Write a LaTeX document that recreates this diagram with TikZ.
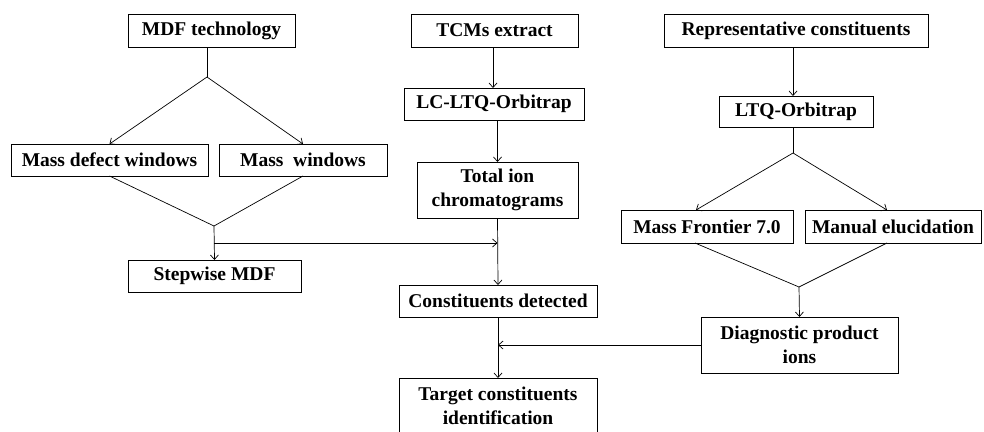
\documentclass[tikz,border=0pt]{standalone}
\usepackage{fontspec}
\setmainfont{Liberation Serif}
\usepackage{tikz}
\usetikzlibrary{arrows.meta}

\begin{document}
\begin{tikzpicture}[x=1pt, y=-1pt, >={Straight Barb[length=4.5pt,width=8pt]},
  every node/.style={draw, line width=0.9pt, inner sep=0pt, outer sep=0pt, align=center,
    font=\fontsize{19.5}{24}\selectfont\bfseries},
  link/.style={line width=0.7pt},
  flow/.style={line width=0.7pt, ->}]
\useasboundingbox (0,0) rectangle (984,431);

\node[minimum width=167pt, minimum height=33pt] (mdf) at (211.5,30.5) {MDF technology};
\node[minimum width=197pt, minimum height=32pt] (defectwin) at (109.5,160) {Mass defect windows};
\node[minimum width=168pt, minimum height=32pt] (masswin) at (303,160) {Mass~ windows};
\node[minimum width=173pt, minimum height=32pt] (stepwise) at (214.5,276) {Stepwise MDF};

\node[minimum width=167pt, minimum height=33pt] (tcms) at (494.5,30.5) {TCMs extract};
\node[minimum width=180pt, minimum height=32pt] (lcltq) at (494,104) {LC-LTQ-Orbitrap};
\node[minimum width=161pt, minimum height=56pt] (tic) at (497.5,190) {Total ion\\chromatograms};
\node[minimum width=198pt, minimum height=32pt] (detected) at (498,301) {Constituents detected};
\node[minimum width=198pt, minimum height=56pt] (target) at (498,406) {Target constituents\\identification};

\node[minimum width=264pt, minimum height=33pt] (repr) at (796,30.5) {Representative constituents};
\node[minimum width=154pt, minimum height=31pt] (ltq) at (796,111.5) {LTQ-Orbitrap};
\node[minimum width=172pt, minimum height=33pt] (frontier) at (707,226.5) {Mass Frontier 7.0};
\node[minimum width=176pt, minimum height=33pt] (manual) at (893,226.5) {Manual elucidation};
\node[minimum width=197pt, minimum height=56pt] (diag) at (799.5,345) {Diagnostic product\\ions};

\coordinate (split1) at (207,77);
\coordinate (merge1) at (214,226);
\coordinate (branch1) at (214,243);
\coordinate (split2) at (793,153);
\coordinate (merge2) at (799,287);

\draw[link] (mdf.south -| split1) -- (split1);
\draw[flow] (split1) -- (defectwin.north);
\draw[flow] (split1) -- (masswin.north);
\draw[link] (defectwin.south) -- (merge1) -- (masswin.south);
\draw[flow] (merge1) -- (stepwise.north);
\draw[flow] (branch1) -- (branch1 -| tic.south);

\draw[flow] (tcms.south -| 493,0) -- (lcltq.north -| 493,0);
\draw[flow] (lcltq.south -| tic.south) -- (tic.north);
\draw[flow] (tic.south) -- (detected.north);
\draw[flow] (detected.south) -- (target.north);
\draw[flow] (diag.west) -- (diag.west -| target.north);

\draw[flow] (repr.south -| split2) -- (ltq.north -| split2);
\draw[link] (ltq.south -| split2) -- (split2);
\draw[flow] (split2) -- ([xshift=-11pt]frontier.north);
\draw[flow] (split2) -- ([xshift=-6pt]manual.north);
\draw[link] ([xshift=-12pt]frontier.south) -- (merge2) -- ([xshift=-6pt]manual.south);
\draw[flow] (merge2) -- (diag.north);
\end{tikzpicture}
\end{document}
